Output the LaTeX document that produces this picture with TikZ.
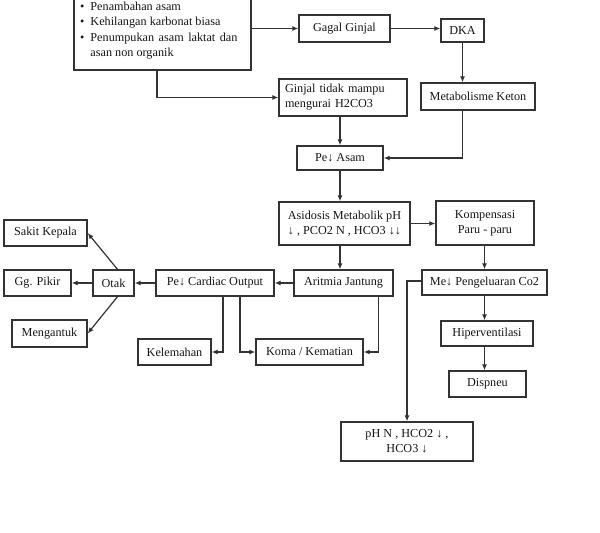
\documentclass[tikz,border=0pt]{standalone}
\usepackage{fontspec}
\setmainfont{Liberation Serif}
\usetikzlibrary{arrows.meta,calc}
\definecolor{ln}{HTML}{333333}
\definecolor{tx}{HTML}{161616}
\newcommand{\fsz}{\fontsize{12.2}{15}\selectfont}
\tikzset{
  box/.style={draw=ln, line width=1.3pt, rectangle, inner sep=2pt, text=tx, font=\fsz, align=center},
  txt/.style={inner sep=0pt, text=tx, font=\fsz},
  arr/.style={draw=ln, line width=1.2pt, -{Latex[length=6pt,width=5pt]}},
}
\begin{document}
\begin{tikzpicture}[x=1pt,y=-1pt]
\useasboundingbox[fill=white] (0,0) rectangle (600,533);
% nodes
\node[box, minimum width=177, minimum height=80] (tl) at (162.5,30) {};
\node[txt, anchor=north west] (tltext) at (80,-0.5) {%
\begin{tabular}{@{}l@{\hspace{6pt}}p{147pt}@{}}
\textbullet & Penambahan asam\\[0pt]
\textbullet & Kehilangan karbonat biasa\\[1.5pt]
\textbullet & Penumpukan asam laktat dan asan non organik
\end{tabular}};
\node[box, minimum width=91, minimum height=27] (gagal) at (344.5,28.5) {Gagal Ginjal};
\node[box, minimum width=43, minimum height=23] (dka) at (462.5,30.5) {DKA};
\node[box, minimum width=128, minimum height=37, align=left, text width=116] (ginjal) at (343,97.5) {Ginjal tidak mampu\\mengurai H2CO3};
\node[box, minimum width=114, minimum height=27] (keton) at (478,96.5) {Metabolisme Keton};
\node[box, minimum width=86, minimum height=24] (asam) at (340,158) {Pe↓ Asam};
\node[box, minimum width=131, minimum height=43] (asid) at (344.5,223.5) {Asidosis Metabolik pH\\↓ , PCO2 N , HCO3 ↓↓};
\node[box, minimum width=98, minimum height=44] (komp) at (485,223) {Kompensasi\\Paru - paru};
\node[box, minimum width=99, minimum height=26] (arit) at (343.5,283) {Aritmia Jantung};
\node[box, minimum width=125, minimum height=25] (me) at (484.5,282.5) {Me↓ Pengeluaran Co2};
\node[box, minimum width=118, minimum height=26] (card) at (215,283) {Pe↓ Cardiac Output};
\node[box, minimum width=41, minimum height=26] (otak) at (113.5,283) {Otak};
\node[box, minimum width=67, minimum height=26] (gg) at (37.5,283) {Gg. Pikir};
\node[box, minimum width=83, minimum height=26] (sakit) at (45.5,233) {Sakit Kepala};
\node[box, minimum width=75, minimum height=27] (meng) at (49.5,333.5) {Mengantuk};
\node[box, minimum width=73, minimum height=26] (kel) at (174.5,352) {Kelemahan};
\node[box, minimum width=107, minimum height=26] (koma) at (309.5,352) {Koma / Kematian};
\node[box, minimum width=92, minimum height=25] (hiper) at (487,333.5) {Hiperventilasi};
\node[box, minimum width=77, minimum height=26] (disp) at (487.5,384) {Dispneu};
\node[box, minimum width=132, minimum height=39] (ph) at (407,441.5) {pH N , HCO2 ↓ ,\\HCO3 ↓};
% connectors
\draw[arr] (gagal.west -| tl.east) -- (gagal.west);
\draw[arr] (gagal.east) -- (gagal.east -| dka.west);
\draw[arr] (dka.south) -- (keton.north -| dka.south);
\draw[arr] ([xshift=-5.5]tl.south) |- (ginjal.west);
\draw[arr] (ginjal.south -| asam.north) -- (asam.north);
\draw[arr] (keton.south -| dka.south) |- (asam.east);
\draw[arr] (asam.south) -- (asam.south |- asid.north);
\draw[arr] (asid.east) -- (asid.east -| komp.west);
\draw[arr] (asid.south -| asam.south) -- (arit.north -| asam.south);
\draw[arr] (komp.south -| me.north) -- (me.north);
\draw[arr] (arit.west) -- (card.east);
\draw[arr] (card.west) -- (otak.east);
\draw[arr] (otak.west) -- (gg.east);
\draw[arr] ([xshift=4]otak.north) -- (sakit.east);
\draw[arr] ([xshift=4]otak.south) -- (meng.east);
\draw[arr] ([xshift=8]card.south) |- (kel.east);
\draw[arr] ([xshift=25]card.south) |- (koma.west);
\draw[arr] ([xshift=35]arit.south) |- (koma.east);
\draw[arr] ([yshift=1.5]me.west) -| (ph.north);
\draw[arr] (me.south) -- (hiper.north -| me.south);
\draw[arr] (hiper.south -| me.south) -- (disp.north -| me.south);
\end{tikzpicture}
\end{document}
